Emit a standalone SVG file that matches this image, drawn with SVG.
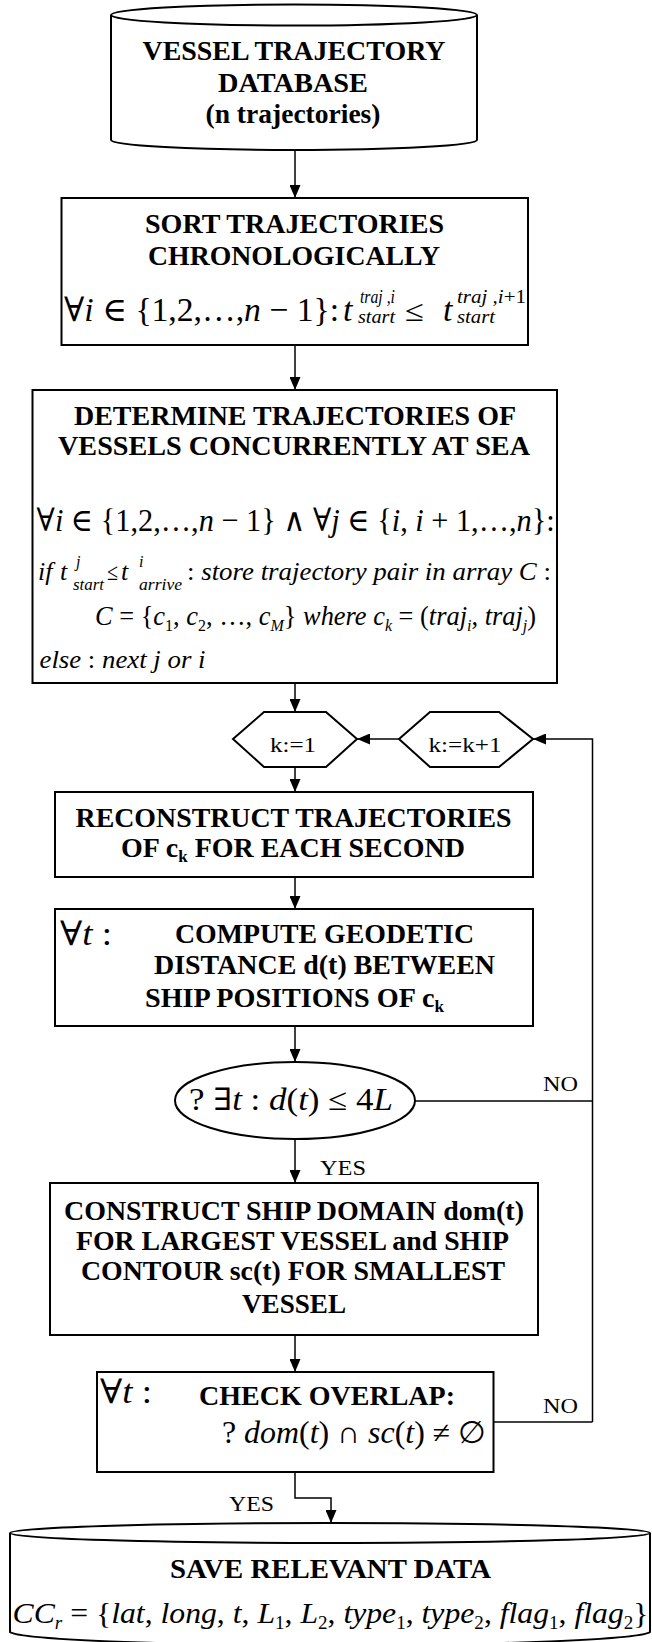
<svg xmlns="http://www.w3.org/2000/svg" width="652" height="1642" viewBox="0 0 652 1642">
<style>
.bx{fill:#fff;stroke:#000;stroke-width:2}
.ln{fill:none;stroke:#000;stroke-width:1.5}
.h{font-family:"Liberation Serif","Times New Roman",serif;font-weight:bold;font-size:28px;text-anchor:middle;fill:#000}
.r{font-family:"Liberation Serif","Times New Roman",serif;font-size:21px;fill:#000}
.m{font-family:"Liberation Serif","DejaVu Serif",serif;fill:#000}
.i{font-style:italic}
</style>
<defs>
<marker id="ah" markerWidth="13" markerHeight="11" refX="13" refY="5.5" orient="auto" markerUnits="userSpaceOnUse">
<path d="M0,0 L13,5.5 L0,11 z" fill="#000"/>
</marker>
</defs>
<rect width="652" height="1642" fill="#fff"/>

<g id="connectors">
<line class="ln" x1="295" y1="150" x2="295" y2="198" marker-end="url(#ah)"/>
<line class="ln" x1="295" y1="345" x2="295" y2="390" marker-end="url(#ah)"/>
<line class="ln" x1="295" y1="683" x2="295" y2="712" marker-end="url(#ah)"/>
<line class="ln" x1="399" y1="739" x2="357" y2="739" marker-end="url(#ah)"/>
<polyline class="ln" points="592.5,1422 592.5,739 533,739" marker-end="url(#ah)"/>
<line class="ln" x1="415" y1="1101" x2="592.5" y2="1101"/>
<line class="ln" x1="493.5" y1="1422" x2="592.5" y2="1422"/>
<line class="ln" x1="295" y1="767" x2="295" y2="792" marker-end="url(#ah)"/>
<line class="ln" x1="295" y1="877" x2="295" y2="909" marker-end="url(#ah)"/>
<line class="ln" x1="295" y1="1026" x2="295" y2="1062" marker-end="url(#ah)"/>
<line class="ln" x1="295" y1="1139" x2="295" y2="1183" marker-end="url(#ah)"/>
<line class="ln" x1="295" y1="1335" x2="295" y2="1372" marker-end="url(#ah)"/>
<polyline class="ln" points="295,1472 295,1498 331,1498 331,1523" marker-end="url(#ah)"/>
<text class="r" x="543" y="1091" textLength="35" lengthAdjust="spacingAndGlyphs">NO</text>
<text class="r" x="543" y="1413" textLength="35" lengthAdjust="spacingAndGlyphs">NO</text>
<text class="r" x="320" y="1175" textLength="46" lengthAdjust="spacingAndGlyphs">YES</text>
<text class="r" x="229" y="1511" textLength="45" lengthAdjust="spacingAndGlyphs">YES</text>
</g>

<g id="db-in">
<path class="bx" d="M111,15 L111,140 A183,10 0 0 0 477,140 L477,15"/>
<ellipse class="bx" cx="294" cy="15" rx="183" ry="10.5"/>
<text class="h" x="294" y="60" textLength="303" lengthAdjust="spacingAndGlyphs">VESSEL TRAJECTORY</text>
<text class="h" x="293" y="92" textLength="150" lengthAdjust="spacingAndGlyphs">DATABASE</text>
<text class="h" x="293" y="123" textLength="175" lengthAdjust="spacingAndGlyphs">(n trajectories)</text>
</g>

<g id="sort">
<rect class="bx" x="61.5" y="198" width="466.5" height="147"/>
<text class="h" x="294.5" y="233" textLength="299" lengthAdjust="spacingAndGlyphs">SORT TRAJECTORIES</text>
<text class="h" x="294" y="265" textLength="292" lengthAdjust="spacingAndGlyphs">CHRONOLOGICALLY</text>
<text class="m" x="64" y="321" font-size="34" textLength="275" lengthAdjust="spacingAndGlyphs">∀<tspan class="i">i</tspan> ∈ {1,2,…,<tspan class="i">n</tspan> − 1}:</text>
<text class="m i" x="343" y="321" font-size="34">t</text>
<text class="m i" x="360" y="303" font-size="18" textLength="35" lengthAdjust="spacingAndGlyphs">traj ,i</text>
<text class="m i" x="358" y="323" font-size="18" textLength="37" lengthAdjust="spacingAndGlyphs">start</text>
<text class="m" x="405" y="321" font-size="30" textLength="19" lengthAdjust="spacingAndGlyphs">≤</text>
<text class="m i" x="443" y="321" font-size="34">t</text>
<text class="m i" x="457" y="303" font-size="18" textLength="69" lengthAdjust="spacingAndGlyphs">traj ,i<tspan font-style="normal">+1</tspan></text>
<text class="m i" x="457" y="323" font-size="18" textLength="38" lengthAdjust="spacingAndGlyphs">start</text>
</g>

<g id="determine">
<rect class="bx" x="32.5" y="390" width="524.5" height="293"/>
<text class="h" x="295" y="425" textLength="442" lengthAdjust="spacingAndGlyphs">DETERMINE TRAJECTORIES OF</text>
<text class="h" x="294" y="455" textLength="472" lengthAdjust="spacingAndGlyphs">VESSELS CONCURRENTLY AT SEA</text>
<text class="m" x="36.6" y="531" font-size="32" textLength="518" lengthAdjust="spacingAndGlyphs">∀<tspan class="i">i</tspan> ∈ {1,2,…,<tspan class="i">n</tspan> − 1} ∧ ∀<tspan class="i">j</tspan> ∈ {<tspan class="i">i</tspan>, <tspan class="i">i</tspan> + 1,…,<tspan class="i">n</tspan>}:</text>
<text class="m i" x="38" y="580" font-size="26">if</text>
<text class="m i" x="60" y="580" font-size="26">t</text>
<text class="m i" x="76" y="567" font-size="16">j</text>
<text class="m i" x="73" y="590" font-size="16" textLength="31" lengthAdjust="spacingAndGlyphs">start</text>
<text class="m" x="107" y="580" font-size="24" textLength="11" lengthAdjust="spacingAndGlyphs">≤</text>
<text class="m i" x="121" y="580" font-size="26">t</text>
<text class="m i" x="139" y="567" font-size="16">i</text>
<text class="m i" x="139" y="590" font-size="16" textLength="43" lengthAdjust="spacingAndGlyphs">arrive</text>
<text class="m i" x="187" y="580" font-size="26" textLength="364" lengthAdjust="spacingAndGlyphs"><tspan font-style="normal">:</tspan> store trajectory pair in array C <tspan font-style="normal">:</tspan></text>
<text class="m" x="95" y="625" font-size="28" textLength="441" lengthAdjust="spacingAndGlyphs"><tspan class="i">C</tspan> = {<tspan class="i">c</tspan><tspan font-size="17" dy="6">1</tspan><tspan dy="-6">, </tspan><tspan class="i">c</tspan><tspan font-size="17" dy="6">2</tspan><tspan dy="-6">, …, </tspan><tspan class="i">c</tspan><tspan class="i" font-size="17" dy="6">M</tspan><tspan dy="-6">}</tspan><tspan class="i"> where c</tspan><tspan class="i" font-size="17" dy="6">k</tspan><tspan dy="-6"> = (</tspan><tspan class="i">traj</tspan><tspan class="i" font-size="17" dy="6">i</tspan><tspan dy="-6">, </tspan><tspan class="i">traj</tspan><tspan class="i" font-size="17" dy="6">j</tspan><tspan dy="-6">)</tspan></text>
<text class="m i" x="39.5" y="668" font-size="26" textLength="166" lengthAdjust="spacingAndGlyphs">else <tspan font-style="normal">:</tspan> next  j or i</text>
</g>

<g id="k-init">
<polygon class="bx" points="233,739 264,712 326,712 357,739 326,767 264,767"/>
<text class="r" x="293" y="752" text-anchor="middle" font-size="21" textLength="46" lengthAdjust="spacingAndGlyphs">k:=1</text>
</g>

<g id="k-inc">
<polygon class="bx" points="399,739 430,712 499,712 533,739 499,767 430,767"/>
<text class="r" x="465" y="752" text-anchor="middle" font-size="21" textLength="73" lengthAdjust="spacingAndGlyphs">k:=k+1</text>
</g>

<g id="reconstruct">
<rect class="bx" x="55" y="792" width="478" height="85"/>
<text class="h" x="293.5" y="827" textLength="436" lengthAdjust="spacingAndGlyphs">RECONSTRUCT TRAJECTORIES</text>
<text class="h" x="293" y="857" textLength="344" lengthAdjust="spacingAndGlyphs">OF c<tspan font-size="17" dy="5">k</tspan><tspan dy="-5"> FOR EACH SECOND</tspan></text>
</g>

<g id="compute">
<rect class="bx" x="55" y="909" width="478" height="117"/>
<text class="m" x="60" y="945" font-size="34" textLength="52" lengthAdjust="spacingAndGlyphs">∀<tspan class="i">t</tspan> :</text>
<text class="h" x="324.5" y="943" textLength="299" lengthAdjust="spacingAndGlyphs">COMPUTE GEODETIC</text>
<text class="h" x="324.5" y="974" textLength="341" lengthAdjust="spacingAndGlyphs">DISTANCE d(t) BETWEEN</text>
<text class="h" x="294.5" y="1007" textLength="299" lengthAdjust="spacingAndGlyphs">SHIP POSITIONS OF c<tspan font-size="17" dy="5">k</tspan></text>
</g>

<g id="decision-distance">
<ellipse class="bx" cx="295" cy="1100.5" rx="120" ry="38.5"/>
<text class="m" x="189" y="1110" font-size="31" textLength="204" lengthAdjust="spacingAndGlyphs">? ∃<tspan class="i">t</tspan> : <tspan class="i">d</tspan>(<tspan class="i">t</tspan>) ≤ 4<tspan class="i">L</tspan></text>
</g>

<g id="construct">
<rect class="bx" x="50" y="1183" width="488" height="152"/>
<text class="h" x="294" y="1220" textLength="460" lengthAdjust="spacingAndGlyphs">CONSTRUCT SHIP DOMAIN dom(t)</text>
<text class="h" x="292.5" y="1250" textLength="433" lengthAdjust="spacingAndGlyphs">FOR LARGEST VESSEL and SHIP</text>
<text class="h" x="293" y="1280" textLength="424" lengthAdjust="spacingAndGlyphs">CONTOUR sc(t) FOR SMALLEST</text>
<text class="h" x="294" y="1313" textLength="104" lengthAdjust="spacingAndGlyphs">VESSEL</text>
</g>

<g id="check">
<rect class="bx" x="97" y="1372" width="396.5" height="100"/>
<text class="m" x="100" y="1403" font-size="34" textLength="52" lengthAdjust="spacingAndGlyphs">∀<tspan class="i">t</tspan> :</text>
<text class="h" x="327" y="1405" textLength="256" lengthAdjust="spacingAndGlyphs">CHECK OVERLAP:</text>
<text class="m" x="222" y="1443" font-size="31" textLength="264" lengthAdjust="spacingAndGlyphs">? <tspan class="i">dom</tspan>(<tspan class="i">t</tspan>) ∩ <tspan class="i">sc</tspan>(<tspan class="i">t</tspan>) ≠ ∅</text>
</g>

<g id="db-out">
<path class="bx" d="M10,1533 L10,1632 A320.5,14 0 0 0 650,1632 L650,1533"/>
<ellipse class="bx" cx="330" cy="1533" rx="320" ry="10"/>
<text class="h" x="330.5" y="1578" textLength="321" lengthAdjust="spacingAndGlyphs">SAVE RELEVANT DATA</text>
<text class="m" x="12.5" y="1623" font-size="30" textLength="636" lengthAdjust="spacingAndGlyphs"><tspan class="i">CC</tspan><tspan class="i" font-size="18" dy="6">r</tspan><tspan dy="-6"> = {</tspan><tspan class="i">lat</tspan>, <tspan class="i">long</tspan>, <tspan class="i">t</tspan>, <tspan class="i">L</tspan><tspan font-size="18" dy="6">1</tspan><tspan dy="-6">, </tspan><tspan class="i">L</tspan><tspan font-size="18" dy="6">2</tspan><tspan dy="-6">, </tspan><tspan class="i">type</tspan><tspan font-size="18" dy="6">1</tspan><tspan dy="-6">, </tspan><tspan class="i">type</tspan><tspan font-size="18" dy="6">2</tspan><tspan dy="-6">, </tspan><tspan class="i">flag</tspan><tspan font-size="18" dy="6">1</tspan><tspan dy="-6">, </tspan><tspan class="i">flag</tspan><tspan font-size="18" dy="6">2</tspan><tspan dy="-6">}</tspan></text>
</g>
</svg>
